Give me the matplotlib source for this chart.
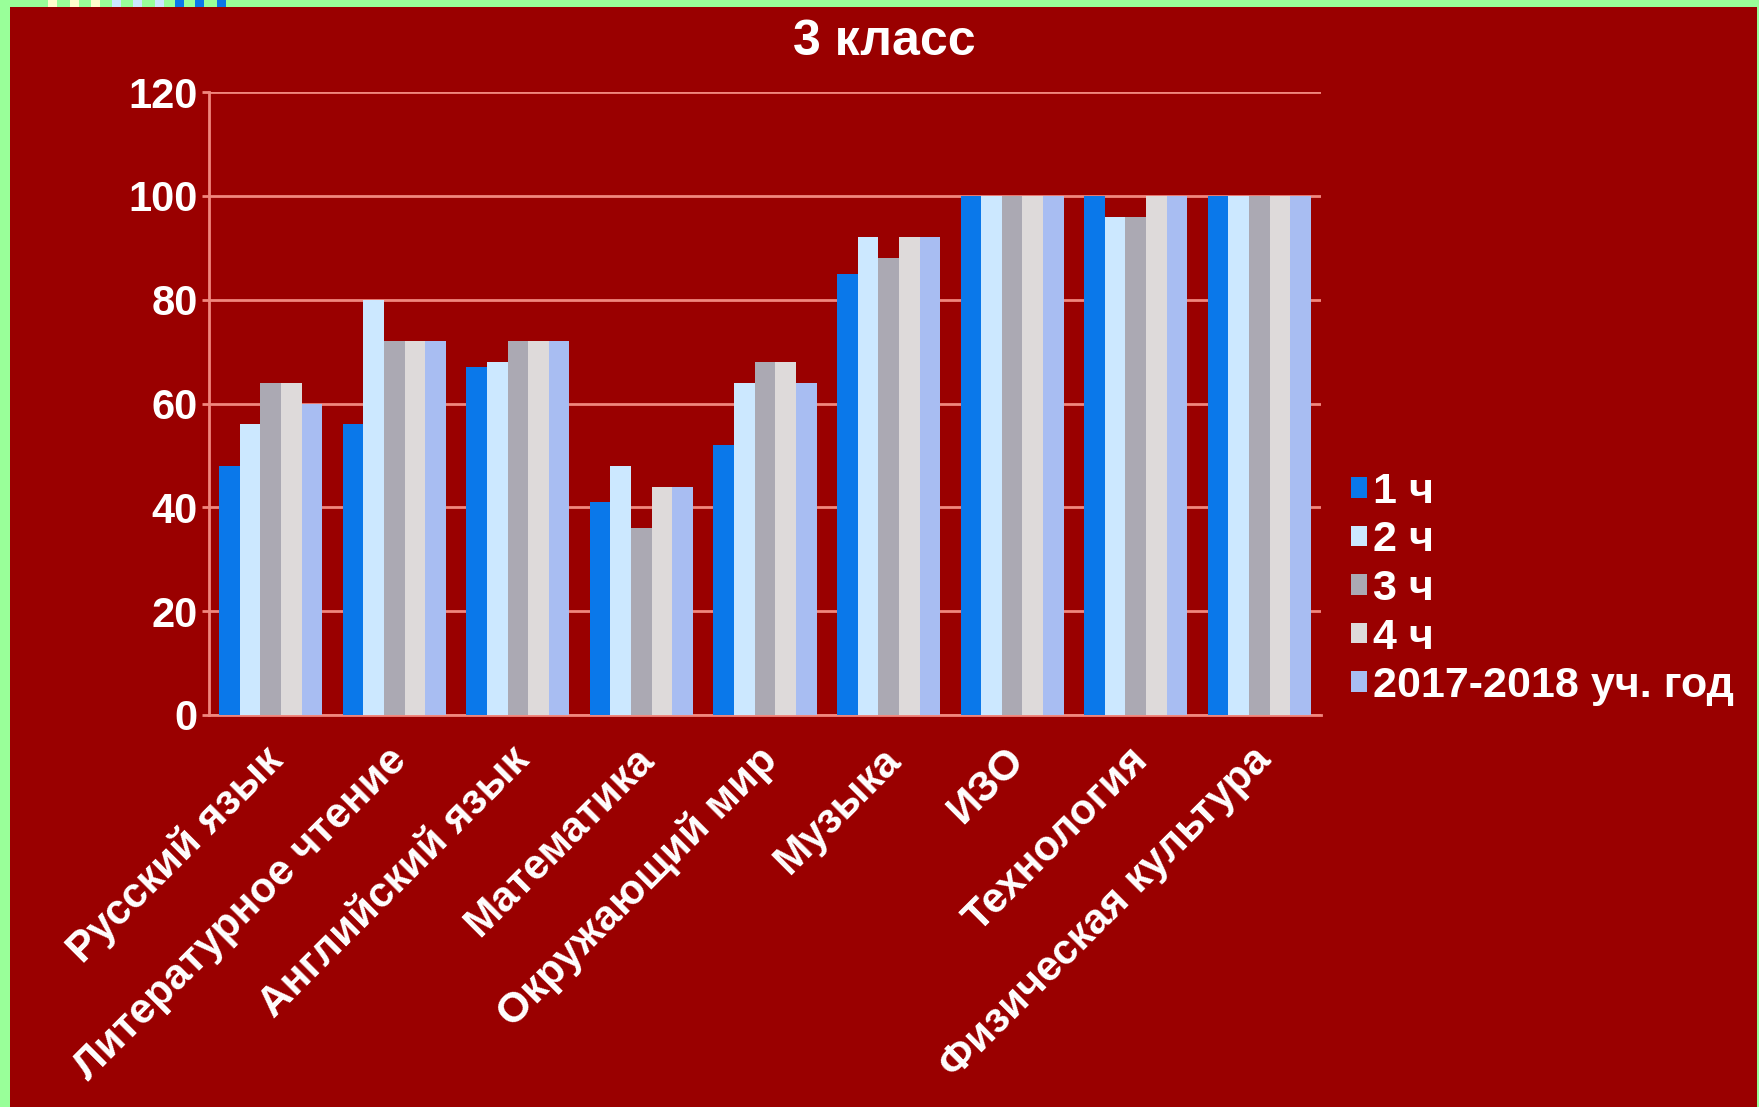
import numpy as np
import matplotlib
matplotlib.use("Agg")
import matplotlib.pyplot as plt
from matplotlib.patches import Rectangle
import matplotlib.transforms as mtransforms

# subjects and results per quarter (%)
subjects = ["Русский язык", "Литературное чтение", "Английский язык", "Математика",
            "Окружающий мир", "Музыка", "ИЗО", "Технология", "Физическая культура"]
series_names = ["1 ч", "2 ч", "3 ч", "4 ч", "2017-2018 уч. год"]
q1 = [48, 56, 67, 41, 52, 85, 100, 100, 100]
q2 = [56, 80, 68, 48, 64, 92, 100, 96, 100]
q3 = [64, 72, 72, 36, 68, 88, 100, 96, 100]
q4 = [64, 72, 72, 44, 68, 92, 100, 100, 100]
year = [60, 72, 72, 44, 64, 92, 100, 100, 100]
y_ticks = [0, 20, 40, 60, 80, 100, 120]

colors = ["#0A78EA", "#CCE8FF", "#ABA9B3", "#DEDADA", "#A8BDF2"]
bg = "#9A0000"
grid_col = "#F0877E"

plt.rcParams['font.family'] = ['Liberation Sans', 'DejaVu Sans']

fig = plt.figure(figsize=(17.59, 11.07), dpi=100)
fig.patch.set_facecolor("#99FF99")

# red slide background inside the green frame
W, H = 1759, 1107
fig.patches.append(Rectangle((10 / W, 0), (W - 12) / W, (H - 7) / H,
                             transform=fig.transFigure, facecolor=bg,
                             edgecolor="none", zorder=-5))
# little coloured squares in the top frame
for x0, c in [(48, "#FFFFCC"), (70, "#FFFFCC"), (91, "#FFFFCC"),
              (112, "#CCE8FF"), (133, "#CCE8FF"), (155, "#CCE8FF"),
              (175, "#0A78EA"), (195, "#0A78EA"), (217, "#0A78EA")]:
    fig.patches.append(Rectangle((x0 / W, (H - 7) / H), 9 / W, 7 / H,
                                 transform=fig.transFigure, facecolor=c,
                                 edgecolor="none", zorder=-5))

ax = fig.add_axes([209 / W, 392 / H, (1321 - 209) / W, (715 - 92) / H])
ax.set_facecolor(bg)

x = np.arange(len(subjects))
width = 0.167
data = [q1, q2, q3, q4, year]
for i, (vals, name) in enumerate(zip(data, series_names)):
    ax.bar(x + (i - 2) * width, vals, width, color=colors[i], label=name,
           edgecolor="none", zorder=3)

ax.set_xlim(-0.5, len(subjects) - 0.5)
ax.set_ylim(0, 120)
ax.set_yticks(y_ticks)
ax.yaxis.grid(True, color=grid_col, linewidth=2, zorder=1)
ax.set_axisbelow(True)
for s in ["top", "right"]:
    ax.spines[s].set_visible(False)
for s in ["left", "bottom"]:
    ax.spines[s].set_color(grid_col)
    ax.spines[s].set_linewidth(2)
ax.tick_params(axis="y", colors=grid_col, length=5, width=2, labelcolor="white",
               labelsize=30, pad=3)
ax.tick_params(axis="x", length=0, pad=28)
for lbl in ax.get_yticklabels():
    lbl.set_fontweight("bold")

ax.set_xticks(x)
ax.set_xticklabels(subjects, rotation=45, ha="right", va="center",
                   rotation_mode="anchor", color="white", fontsize=30.5,
                   fontweight="bold")
offset = mtransforms.ScaledTranslation(6 / 100, 0, fig.dpi_scale_trans)
for lbl in ax.get_xticklabels():
    lbl.set_transform(lbl.get_transform() + offset)

fig.text(884 / W, 1 - 42 / H, "3 класс", ha="center", va="center",
         color="white", fontsize=36, fontweight="bold")

leg = fig.legend(loc="center left", bbox_to_anchor=(1334 / W, 1 - 589 / H),
                 frameon=False, fontsize=31, handlelength=0.36, handleheight=0.36,
                 handletextpad=0.15, labelspacing=0.2, borderaxespad=0)
for t in leg.get_texts():
    t.set_color("white")
    t.set_fontweight("bold")

fig.savefig("out.png", dpi=100, facecolor=fig.get_facecolor())
